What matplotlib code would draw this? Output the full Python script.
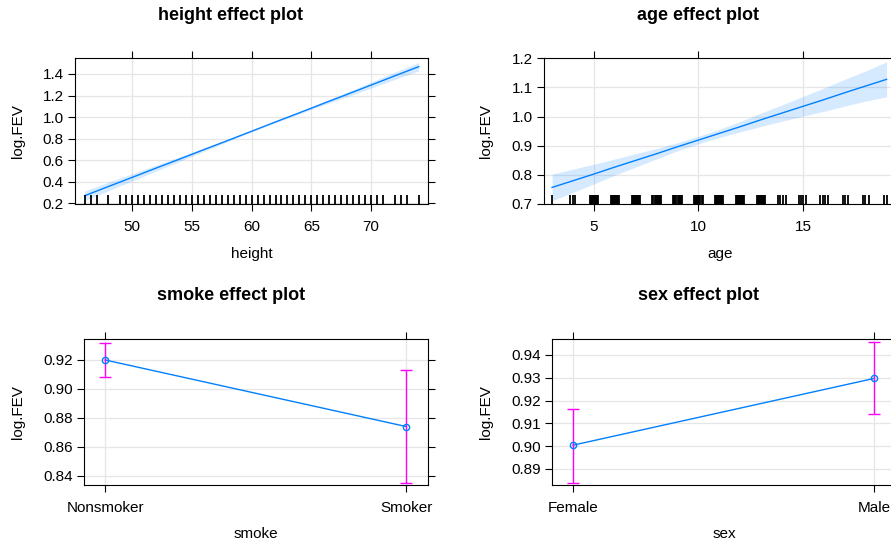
import numpy as np
import matplotlib
matplotlib.use('Agg')
import matplotlib.pyplot as plt
from matplotlib.ticker import FormatStrFormatter

plt.rcParams['font.family'] = ['Liberation Sans', 'DejaVu Sans']

# ---- data ----
height_grid = [46, 48, 50, 52, 54, 56, 58, 60, 62, 64, 66, 68, 70, 72, 74]
height_fit = [0.270, 0.356, 0.441, 0.527, 0.612, 0.698, 0.783, 0.869,
              0.955, 1.040, 1.126, 1.211, 1.297, 1.383, 1.468]
height_lower = [0.225, 0.317, 0.408, 0.499, 0.590, 0.682, 0.772, 0.862,
                0.948, 1.029, 1.110, 1.189, 1.269, 1.350, 1.429]
height_upper = [0.315, 0.396, 0.475, 0.555, 0.634, 0.714, 0.794, 0.876,
                0.962, 1.051, 1.142, 1.233, 1.325, 1.417, 1.507]
height_rug = [46, 46.5, 47, 48, 49, 49.5, 50, 50.5, 51, 51.5, 52, 52.5, 53,
              53.5, 54, 54.5, 55, 55.5, 56, 56.5, 57, 57.5, 58, 58.5, 59,
              59.5, 60, 60.5, 61, 61.5, 62, 62.5, 63, 63.5, 64, 64.5, 65,
              65.5, 66, 66.5, 67, 67.5, 68, 68.5, 69, 69.5, 70, 70.5, 71,
              72, 72.5, 73, 74]

age_grid = [3, 4, 5, 6, 7, 8, 9, 10, 11, 12, 13, 14, 15, 16, 17, 18, 19]
age_fit = [0.756, 0.779, 0.802, 0.826, 0.849, 0.872, 0.896, 0.919, 0.942,
           0.965, 0.989, 1.012, 1.035, 1.058, 1.082, 1.105, 1.128]
age_lower = [0.710, 0.739, 0.768, 0.798, 0.826, 0.854, 0.882, 0.906, 0.928,
             0.947, 0.966, 0.984, 1.001, 1.018, 1.036, 1.053, 1.068]
age_upper = [0.802, 0.819, 0.836, 0.854, 0.872, 0.890, 0.910, 0.932, 0.956,
             0.983, 1.012, 1.040, 1.069, 1.098, 1.128, 1.157, 1.188]
age_rug_sparse = [3.0, 3.88, 3.98, 4.12, 13.8, 13.92, 14.05, 14.2,
                  14.8, 14.92, 15.02, 15.15, 15.8, 15.95, 16.05, 16.2,
                  16.9, 17.0, 17.15, 17.85, 17.95, 18.15, 18.9, 19.0]
age_rug_dense = [5, 6, 7, 8, 9, 10, 11, 12, 13]
age_jitter = [-0.2, -0.15, -0.1, -0.05, 0.0, 0.05, 0.1, 0.15, 0.2]

smoke_levels = ['Nonsmoker', 'Smoker']
smoke_fit = [0.920, 0.874]
smoke_lower = [0.908, 0.835]
smoke_upper = [0.932, 0.913]

sex_levels = ['Female', 'Male']
sex_fit = [0.9004, 0.9297]
sex_lower = [0.884, 0.914]
sex_upper = [0.9165, 0.9455]

LINE = '#0080ff'
BAR = '#ff00ff'

fig = plt.figure(figsize=(8.91, 5.41), dpi=100)


def style(ax):
    for s in ax.spines.values():
        s.set_color('black')
        s.set_linewidth(0.8)
    ax.tick_params(direction='out', length=5, width=0.8, top=True,
                   right=True, labelsize=11, colors='black')
    ax.tick_params(axis='x', pad=6)
    ax.tick_params(axis='y', pad=3)
    ax.grid(True, color='#e6e6e6', lw=0.9)
    ax.set_axisbelow(True)


def rug(ax, xs):
    ax.vlines(xs, 0, 0.062, transform=ax.get_xaxis_transform(),
              color='black', lw=1.3, zorder=3)


# height
ax1 = fig.add_axes([0.0842, 0.6224, 0.3962, 0.2699])
style(ax1)
ax1.fill_between(height_grid, height_lower, height_upper, color=LINE,
                 alpha=0.16, lw=0)
ax1.plot(height_grid, height_fit, color=LINE, lw=1)
rug(ax1, height_rug)
ax1.set_xlim(45.2, 74.78)
ax1.set_ylim(0.191, 1.546)
ax1.set_xticks([50, 55, 60, 65, 70])
ax1.set_yticks([0.2, 0.4, 0.6, 0.8, 1.0, 1.2, 1.4])
ax1.yaxis.set_major_formatter(FormatStrFormatter('%.1f'))
ax1.set_xlabel('height', fontsize=11)
ax1.set_ylabel('log.FEV', fontsize=11)
ax1.xaxis.set_label_coords(0.5, -0.29)
ax1.yaxis.set_label_coords(-0.142, 0.5)

# age
ax2 = fig.add_axes([0.6102, 0.6224, 0.3954, 0.2699])
style(ax2)
ax2.fill_between(age_grid, age_lower, age_upper, color=LINE, alpha=0.16, lw=0)
ax2.plot(age_grid, age_fit, color=LINE, lw=1)
rug(ax2, age_rug_sparse)
rug(ax2, [a + j for a in age_rug_dense for j in age_jitter])
ax2.set_xlim(2.6, 19.45)
ax2.set_ylim(0.698, 1.2005)
ax2.set_xticks([5, 10, 15])
ax2.set_yticks([0.7, 0.8, 0.9, 1.0, 1.1, 1.2])
ax2.yaxis.set_major_formatter(FormatStrFormatter('%.1f'))
ax2.set_xlabel('age', fontsize=11)
ax2.set_ylabel('log.FEV', fontsize=11)
ax2.xaxis.set_label_coords(0.5, -0.29)
ax2.yaxis.set_label_coords(-0.143, 0.5)


def factor_panel(ax, levels, fit, lower, upper):
    style(ax)
    x = np.arange(len(levels))
    fit = np.array(fit)
    err = [fit - np.array(lower), np.array(upper) - fit]
    ax.plot(x, fit, color=LINE, lw=1)
    ax.errorbar(x, fit, yerr=err, fmt='none', ecolor=BAR, elinewidth=1,
                capsize=4.5, capthick=1)
    ax.plot(x, fit, ls='none', marker='o', ms=4.5, mfc='none', mec=LINE,
            mew=1)
    ax.set_xticks(x)
    ax.set_xticklabels(levels)
    ax.set_xlim(-0.07, 1.073)


# smoke
ax3 = fig.add_axes([0.0943, 0.1030, 0.3861, 0.2699])
factor_panel(ax3, smoke_levels, smoke_fit, smoke_lower, smoke_upper)
ax3.set_ylim(0.8334, 0.9343)
ax3.set_yticks([0.84, 0.86, 0.88, 0.90, 0.92])
ax3.yaxis.set_major_formatter(FormatStrFormatter('%.2f'))
ax3.set_xlabel('smoke', fontsize=11)
ax3.set_ylabel('log.FEV', fontsize=11)
ax3.xaxis.set_label_coords(0.5, -0.285)
ax3.yaxis.set_label_coords(-0.1715, 0.5)

# sex
ax4 = fig.add_axes([0.6195, 0.1030, 0.3861, 0.2699])
factor_panel(ax4, sex_levels, sex_fit, sex_lower, sex_upper)
ax4.set_ylim(0.8828, 0.9469)
ax4.set_yticks([0.89, 0.90, 0.91, 0.92, 0.93, 0.94])
ax4.yaxis.set_major_formatter(FormatStrFormatter('%.2f'))
ax4.set_xlabel('sex', fontsize=11)
ax4.set_ylabel('log.FEV', fontsize=11)
ax4.xaxis.set_label_coords(0.5, -0.285)
ax4.yaxis.set_label_coords(-0.1706, 0.5)

# panel titles
fig.text(231 / 891, 1 - 16 / 541, 'height effect plot', ha='center',
         va='center', fontsize=13, fontweight='bold')
fig.text(698 / 891, 1 - 16 / 541, 'age effect plot', ha='center',
         va='center', fontsize=13, fontweight='bold')
fig.text(231 / 891, 1 - 296 / 541, 'smoke effect plot', ha='center',
         va='center', fontsize=13, fontweight='bold')
fig.text(698 / 891, 1 - 296 / 541, 'sex effect plot', ha='center',
         va='center', fontsize=13, fontweight='bold')

fig.savefig('out.png', dpi=100)
